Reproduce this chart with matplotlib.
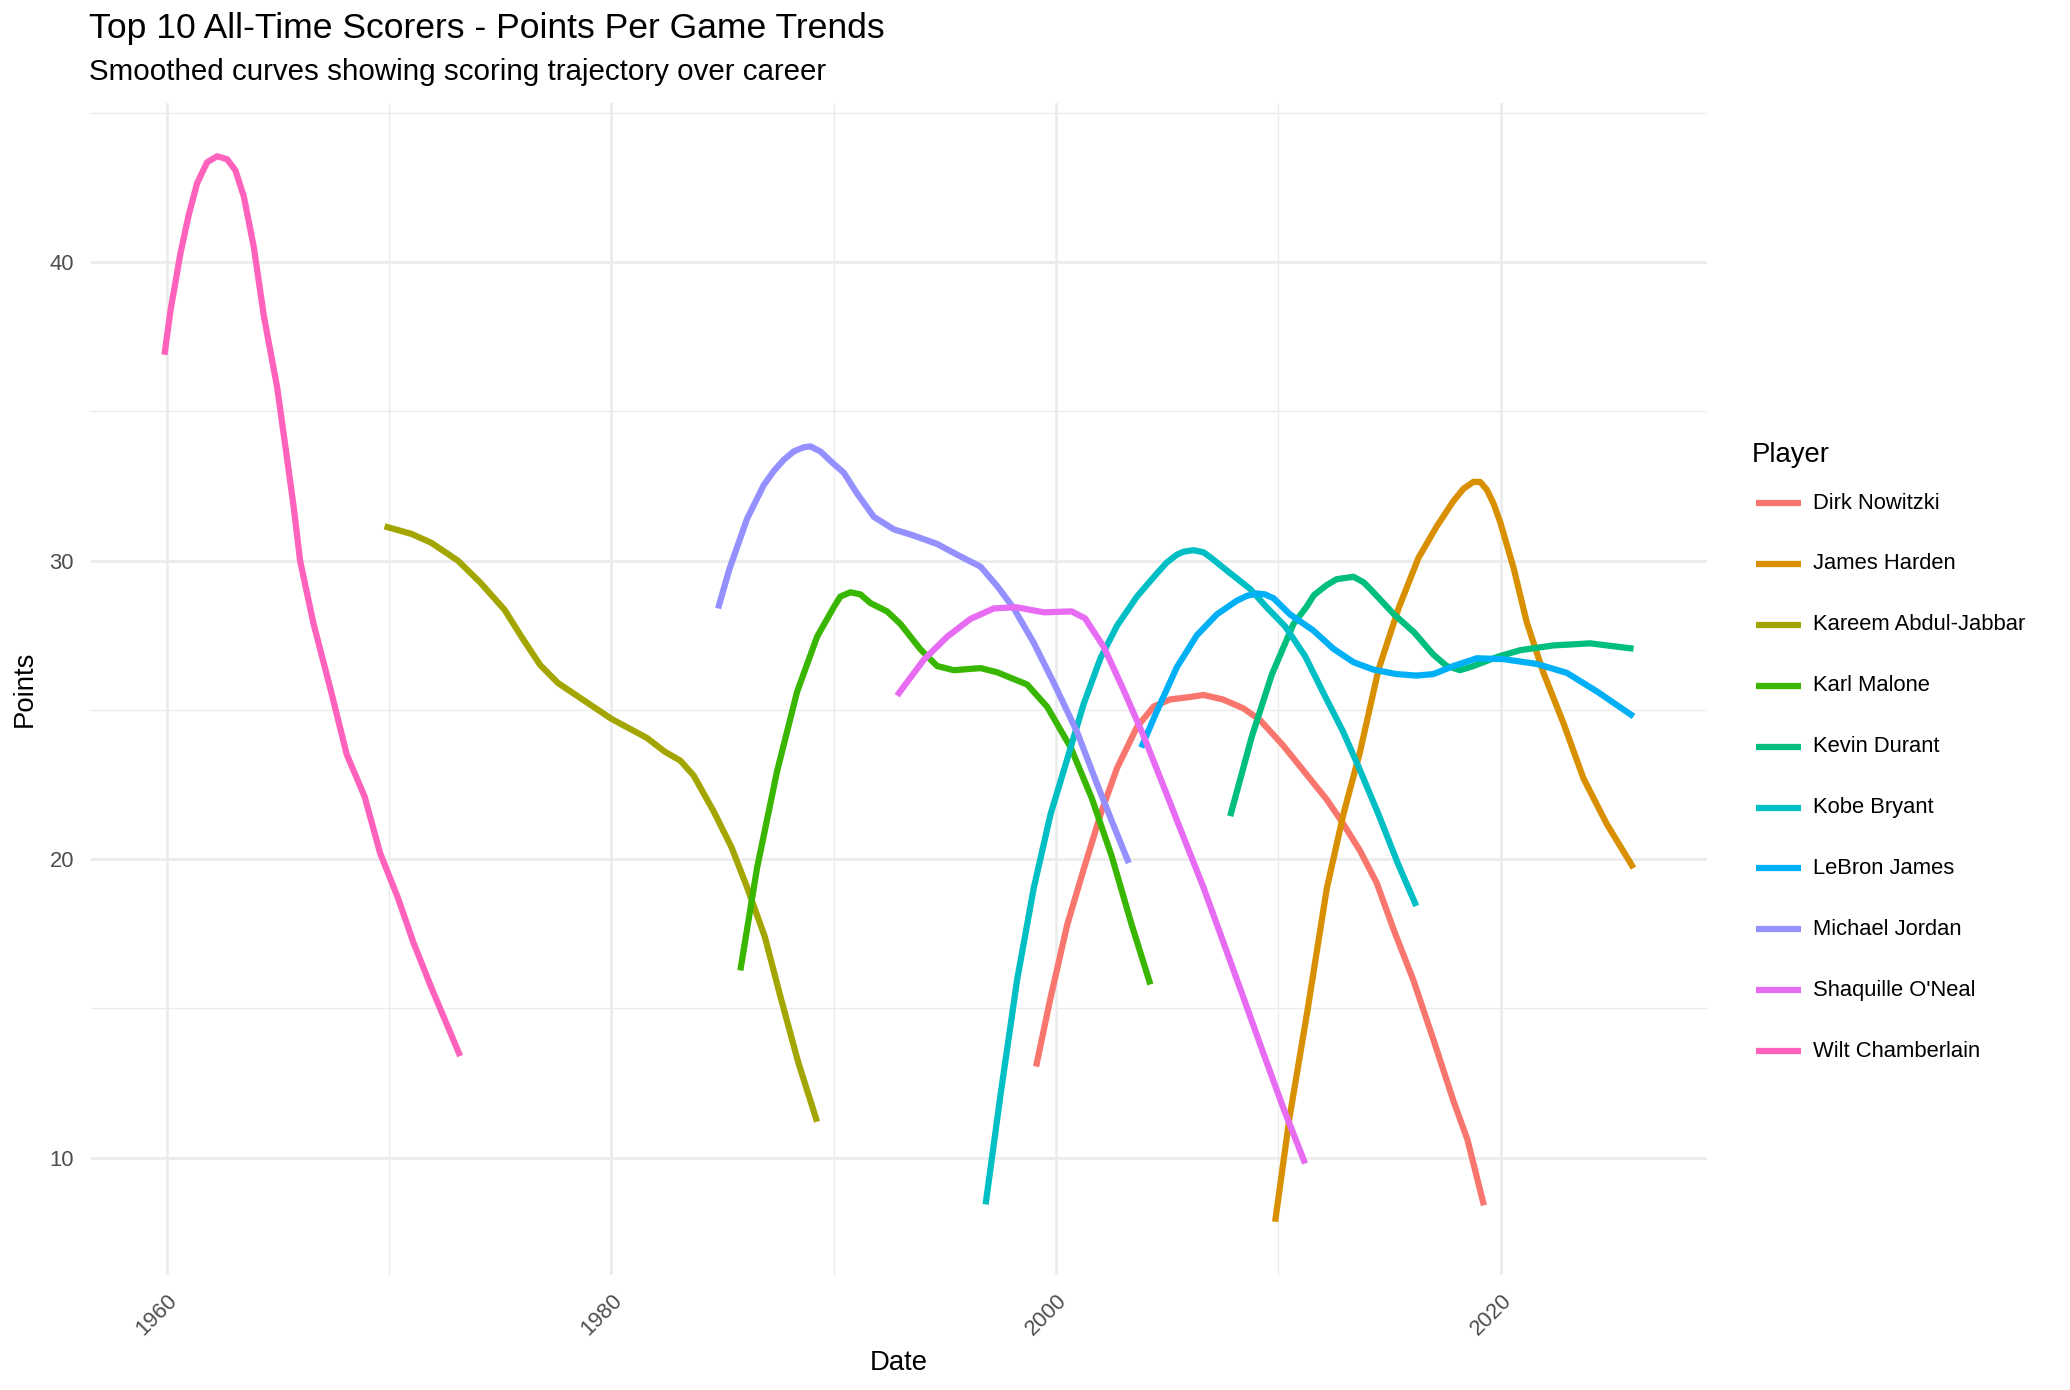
"""
Top 10 all-time scorers - smoothed points-per-game curves (ggplot-like look)
"""
import matplotlib
matplotlib.use("Agg")
import matplotlib.pyplot as plt
from matplotlib.lines import Line2D
from matplotlib.ticker import MultipleLocator

plt.rcParams['font.family'] = ['Liberation Sans', 'DejaVu Sans']

# --- data (year, points per game) ---
players = ["Dirk Nowitzki", "James Harden", "Kareem Abdul-Jabbar", "Karl Malone",
           "Kevin Durant", "Kobe Bryant", "LeBron James", "Michael Jordan",
           "Shaquille O'Neal", "Wilt Chamberlain"]
colors = ["#F8766D", "#D89000", "#A3A500", "#39B600", "#00BF7D",
          "#00BFC4", "#00B0F6", "#9590FF", "#E76BF3", "#FF62BC"]

dirk_years = [1999.1, 1999.75, 2000.5, 2001.24, 2002.0, 2002.74, 2003.64, 2004.4, 2005.13,
              2006.0, 2006.63, 2007.5, 2008.43, 2009.17, 2010.22, 2011.12, 2012.17, 2012.9,
              2013.67, 2014.42, 2015.2, 2016.07, 2016.97, 2017.87, 2018.5, 2019.24]
dirk_ppg = [13.05, 15.35, 17.8, 19.66, 21.5, 23.05, 24.43, 25.12, 25.35,
            25.43, 25.5, 25.35, 25.05, 24.66, 23.8, 22.97, 22.0, 21.2,
            20.28, 19.2, 17.6, 15.94, 13.95, 11.9, 10.6, 8.4]

harden_years = [2009.85, 2010.5, 2011.3, 2012.17, 2012.92, 2013.67, 2014.5, 2015.4, 2016.3,
                2017.12, 2017.87, 2018.32, 2018.77, 2019.07, 2019.37, 2019.67, 2019.97,
                2020.57, 2021.17, 2021.92, 2022.82, 2023.72, 2024.77, 2025.97]
harden_ppg = [7.85, 11.35, 14.9, 19.0, 21.5, 23.6, 26.35, 28.4, 30.1,
              31.15, 32.0, 32.41, 32.64, 32.64, 32.38, 31.92, 31.3,
              29.77, 27.93, 26.24, 24.55, 22.7, 21.17, 19.7]

kareem_years = [1969.8, 1971.0, 1971.9, 1973.1, 1974.1, 1975.2, 1976.0, 1976.8, 1977.6,
                1978.6, 1980.0, 1981.0, 1981.6, 1982.4, 1983.1, 1983.7, 1984.6, 1985.4,
                1986.1, 1986.9, 1987.6, 1988.4, 1989.25]
kareem_ppg = [31.15, 30.9, 30.6, 30.0, 29.27, 28.35, 27.4, 26.5, 25.9,
              25.4, 24.7, 24.3, 24.06, 23.6, 23.3, 22.8, 21.6, 20.4,
              19.06, 17.4, 15.4, 13.2, 11.2]

malone_years = [1985.8, 1986.55, 1987.45, 1988.35, 1989.25, 1990.0, 1990.3, 1990.75, 1991.2,
                1991.65, 1992.4, 1993.0, 1993.9, 1994.65, 1995.4, 1996.6, 1997.35, 1998.7,
                1999.6, 2000.65, 2001.6, 2002.5, 2003.4, 2004.24]
malone_ppg = [16.27, 19.7, 22.94, 25.6, 27.45, 28.44, 28.8, 28.94, 28.87,
              28.58, 28.3, 27.88, 27.03, 26.47, 26.33, 26.4, 26.26, 25.85,
              25.1, 23.75, 22.05, 20.1, 17.8, 15.8]

durant_years = [2007.83, 2008.8, 2009.7, 2010.67, 2011.27, 2011.6, 2012.17, 2012.62, 2013.37,
                2013.82, 2014.12, 2015.2, 2016.1, 2016.97, 2017.57, 2018.17, 2018.77, 2019.82,
                2020.87, 2022.37, 2024.02, 2025.97]
durant_ppg = [21.44, 24.1, 26.18, 27.87, 28.46, 28.85, 29.18, 29.38, 29.46,
              29.28, 29.06, 28.2, 27.6, 26.85, 26.47, 26.33, 26.47, 26.77,
              27.0, 27.16, 27.23, 27.05]

kobe_years = [1996.83, 1997.5, 1998.25, 1999.0, 1999.75, 2000.5, 2001.24, 2002.0, 2002.74,
              2003.64, 2004.54, 2004.98, 2005.43, 2005.73, 2006.18, 2006.63, 2006.93, 2007.83,
              2008.73, 2009.48, 2010.3, 2011.2, 2012.0, 2012.9, 2013.6, 2014.5, 2015.4, 2016.2]
kobe_ppg = [8.43, 12.1, 15.97, 19.05, 21.5, 23.35, 25.2, 26.74, 27.82,
            28.8, 29.58, 29.94, 30.2, 30.3, 30.35, 30.28, 30.12, 29.58,
            29.05, 28.43, 27.8, 26.8, 25.6, 24.28, 23.1, 21.5, 19.8, 18.43]

lebron_years = [2003.83, 2004.54, 2005.43, 2006.33, 2007.23, 2008.13, 2008.58, 2009.03, 2009.4,
                2009.78, 2010.52, 2011.57, 2012.47, 2013.37, 2014.27, 2015.3, 2016.2, 2016.97,
                2017.87, 2018.92, 2020.12, 2021.62, 2022.97, 2024.32, 2025.97]
lebron_ppg = [23.74, 24.97, 26.43, 27.5, 28.2, 28.66, 28.82, 28.9, 28.87,
              28.74, 28.2, 27.66, 27.05, 26.6, 26.35, 26.2, 26.15, 26.2,
              26.47, 26.73, 26.7, 26.54, 26.24, 25.62, 24.78]

jordan_years = [1984.8, 1985.3, 1986.1, 1986.85, 1987.3, 1987.75, 1988.2, 1988.65, 1988.95,
                1989.4, 1990.0, 1990.45, 1991.05, 1991.8, 1992.7, 1993.6, 1994.65, 1995.55,
                1996.6, 1997.35, 1998.1, 1999.0, 1999.9, 2000.95, 2001.85, 2002.6, 2003.27]
jordan_ppg = [28.4, 29.7, 31.4, 32.53, 33.0, 33.38, 33.66, 33.8, 33.83,
              33.66, 33.24, 32.95, 32.25, 31.47, 31.05, 30.84, 30.56, 30.2,
              29.8, 29.15, 28.4, 27.24, 25.9, 24.25, 22.5, 21.1, 19.87]

shaq_years = [1992.85, 1994.05, 1995.1, 1996.15, 1997.2, 1998.2, 1999.45, 2000.7, 2001.3,
              2002.15, 2003.04, 2003.94, 2004.84, 2005.73, 2006.63, 2007.53, 2008.43,
              2009.32, 2010.22, 2011.2]
shaq_ppg = [25.48, 26.68, 27.45, 28.05, 28.4, 28.44, 28.27, 28.3, 28.07,
            27.1, 25.66, 24.12, 22.43, 20.74, 19.05, 17.2, 15.35,
            13.5, 11.66, 9.8]

wilt_years = [1959.9, 1960.17, 1960.62, 1960.99, 1961.37, 1961.82, 1962.27, 1962.72, 1963.09,
              1963.47, 1963.92, 1964.37, 1964.97, 1965.4, 1965.72, 1966.0, 1966.6, 1967.4,
              1968.1, 1968.9, 1969.6, 1970.4, 1971.1, 1971.9, 1973.2]
wilt_ppg = [36.9, 38.37, 40.3, 41.58, 42.65, 43.35, 43.55, 43.45, 43.08,
            42.2, 40.5, 38.2, 35.8, 33.5, 31.75, 30.0, 27.9, 25.6,
            23.5, 22.1, 20.2, 18.7, 17.2, 15.7, 13.4]

series = [(dirk_years, dirk_ppg), (harden_years, harden_ppg), (kareem_years, kareem_ppg),
          (malone_years, malone_ppg), (durant_years, durant_ppg), (kobe_years, kobe_ppg),
          (lebron_years, lebron_ppg), (jordan_years, jordan_ppg), (shaq_years, shaq_ppg),
          (wilt_years, wilt_ppg)]

# --- figure ---
W, H, DPI = 2070, 1390, 180
fig = plt.figure(figsize=(W / DPI, H / DPI), dpi=DPI)
ax = fig.add_axes([91 / W, 115 / H, (1707 - 91) / W, (1275 - 103) / H])

LW = 2.5
for (xs, ys), c in zip(series, colors):
    ax.plot(xs, ys, color=c, lw=LW, solid_capstyle='butt', solid_joinstyle='round')

# ggplot-style 5% expansion
all_x = [v for xs, _ in series for v in xs]
all_y = [v for _, ys in series for v in ys]
dx = (max(all_x) - min(all_x)) * 0.05
dy = (max(all_y) - min(all_y)) * 0.05
ax.set_xlim(min(all_x) - dx, max(all_x) + dx)
ax.set_ylim(min(all_y) - dy, max(all_y) + dy)

ax.xaxis.set_major_locator(MultipleLocator(20))
ax.xaxis.set_minor_locator(MultipleLocator(10))
ax.yaxis.set_major_locator(MultipleLocator(10))
ax.yaxis.set_minor_locator(MultipleLocator(5))
ax.grid(which='major', color='#EBEBEB', lw=1.07)
ax.grid(which='minor', color='#EBEBEB', lw=0.53)
ax.set_axisbelow(True)
for s in ax.spines.values():
    s.set_visible(False)

ax.tick_params(which='both', length=0, labelsize=8.8, labelcolor='#4D4D4D')
ax.tick_params(axis='y', pad=6.8)
ax.tick_params(axis='x', pad=6.0)
ax.set_xticks([1960, 1980, 2000, 2020])
ax.set_xticklabels(["1960", "1980", "2000", "2020"])
for lab in ax.get_xticklabels():
    lab.set_rotation(45)
    lab.set_ha('right')
    lab.set_va('top')
    lab.set_rotation_mode('anchor')

# titles and axis labels
fig.text(89 / W, 1 - 38 / H, "Top 10 All-Time Scorers - Points Per Game Trends",
         fontsize=14.2, va='baseline', ha='left')
fig.text(89 / W, 1 - 80 / H, "Smoothed curves showing scoring trajectory over career",
         fontsize=11.8, va='baseline', ha='left')
fig.text((91 + 1707) / 2 / W, 1 - 1370 / H, "Date", fontsize=11, ha='center', va='baseline')
fig.text(25 / W, 1 - 689 / H, "Points", fontsize=11, rotation=90, ha='center', va='center')

# legend drawn by hand to match ggplot's key layout
fig.text(1752 / W, 1 - 462 / H, "Player", fontsize=11, ha='left', va='baseline')
for i, (name, c) in enumerate(zip(players, colors)):
    yk = 1 - (503 + 60.9 * i) / H
    fig.add_artist(Line2D([1756 / W, 1801 / W], [yk, yk], color=c, lw=LW,
                          solid_capstyle='butt', transform=fig.transFigure))
    fig.text(1813 / W, yk, name, fontsize=8.8, ha='left', va='center')

fig.savefig("out.png", dpi=DPI, facecolor='white')
